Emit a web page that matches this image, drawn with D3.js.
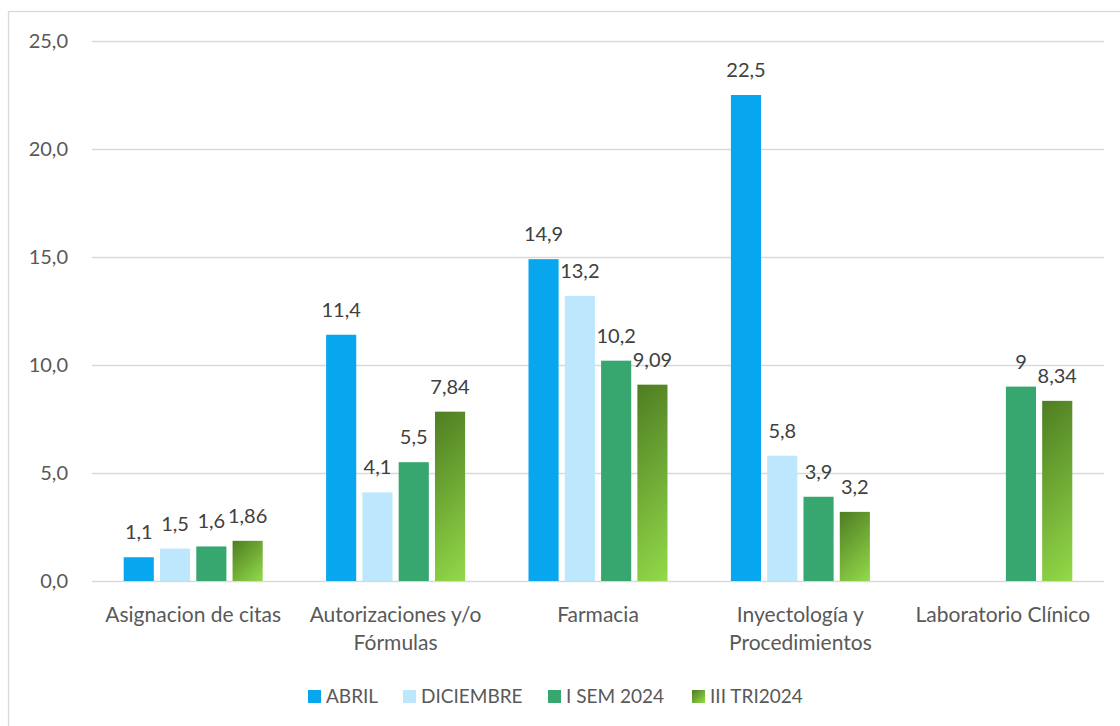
<!DOCTYPE html>
<html>
<head>
<meta charset="utf-8">
<script src="https://cdn.jsdelivr.net/npm/d3@7"></script>
<style>
	body { margin: 0; background: #fff; }
	text { font-family: Lato, "Open Sans", sans-serif; }
</style>
</head>
<body>
<div id="chart-area"></div>
<script>
const categories = ["Asignacion de citas", "Autorizaciones y/o Fórmulas", "Farmacia", "Inyectología y Procedimientos", "Laboratorio Clínico"];
const categoryLines = [["Asignacion de citas"], ["Autorizaciones y/o", "Fórmulas"], ["Farmacia"], ["Inyectología y", "Procedimientos"], ["Laboratorio Clínico"]];
const seriesNames = ["ABRIL", "DICIEMBRE", "I SEM 2024", "III TRI2024"];
const abril = [1.1, 11.4, 14.9, 22.5, null];
const diciembre = [1.5, 4.1, 13.2, 5.8, null];
const isem2024 = [1.6, 5.5, 10.2, 3.9, 9];
const iiitri2024 = [1.86, 7.84, 9.09, 3.2, 8.34];
const yTicks = [0, 5, 10, 15, 20, 25];

const seriesValues = [abril, diciembre, isem2024, iiitri2024];
const colors = ["#08a6ee", "#bde7fc", "#37a66f", null];
const gradTop = "#4e7d22", gradBottom = "#93da49";

const svgWidth = 1120, svgHeight = 726;
const plot = {left: 92, right: 1104, top: 41, bottom: 581};

const svg = d3.select("#chart-area").append("svg")
	.attr("width", svgWidth)
	.attr("height", svgHeight);
const defs = svg.append("defs");

// chart border
svg.append("rect")
	.attr("x", 8.5).attr("y", 11.5)
	.attr("width", 1130).attr("height", 730)
	.attr("fill", "none")
	.attr("stroke", "#d9d9d9")
	.attr("stroke-width", 1.3);

const x0 = d3.scaleBand().domain(categories).range([plot.left, plot.right]);
const x1 = d3.scaleBand().domain(seriesNames).range([-69.5, 69.5]).paddingInner(0.17);
const y = d3.scaleLinear().domain([0, 25]).range([plot.bottom, plot.top]);

const fmtTick = d => d3.format(".1f")(d).replace(".", ",");
const fmtLabel = d => String(d).replace(".", ",");

// grid
const yAxis = svg.append("g")
	.attr("transform", `translate(${plot.left},0)`)
	.call(d3.axisLeft(y).tickValues(yTicks).tickSize(-(plot.right - plot.left)).tickPadding(24).tickFormat(fmtTick));
yAxis.select(".domain").remove();
yAxis.selectAll(".tick line").attr("stroke", "#d9d9d9").attr("stroke-width", 1.3);
yAxis.selectAll(".tick text")
	.attr("fill", "#595959")
	.attr("font-size", "20px")
	.style("font-family", "Lato, sans-serif");

// bars
const flat = [];
categories.forEach((c, i) => {
	seriesNames.forEach((s, j) => {
		const v = seriesValues[j][i];
		if (v != null) flat.push({cat: c, series: s, si: j, value: v, ci: i});
	});
});

flat.forEach((d, k) => {
	if (d.si === 3) {
		const bx = x0(d.cat) + x0.bandwidth() / 2 + x1(d.series);
		const by = y(d.value);
		const w = x1.bandwidth(), h = plot.bottom - by;
		const s = (w + h) / 2;
		const g = defs.append("linearGradient")
			.attr("id", "grad" + k)
			.attr("gradientUnits", "userSpaceOnUse")
			.attr("x1", bx).attr("y1", by)
			.attr("x2", bx + s).attr("y2", by + s);
		g.append("stop").attr("offset", "0%").attr("stop-color", gradTop);
		g.append("stop").attr("offset", "100%").attr("stop-color", gradBottom);
		d.fill = `url(#grad${k})`;
	} else {
		d.fill = colors[d.si];
	}
});

svg.append("g").selectAll("rect").data(flat).enter().append("rect")
	.attr("x", d => x0(d.cat) + x0.bandwidth() / 2 + x1(d.series))
	.attr("y", d => y(d.value))
	.attr("width", x1.bandwidth())
	.attr("height", d => plot.bottom - y(d.value))
	.attr("fill", d => d.fill);

// data labels
svg.append("g").selectAll("text").data(flat).enter().append("text")
	.attr("x", d => x0(d.cat) + x0.bandwidth() / 2 + x1(d.series) + x1.bandwidth() / 2)
	.attr("y", d => y(d.value) - 18)
	.attr("text-anchor", "middle")
	.attr("font-size", "20px")
	.attr("fill", "#404040")
	.text(d => fmtLabel(d.value));

// category labels
const catG = svg.append("g");
categories.forEach((c, i) => {
	const t = catG.append("text")
		.attr("x", x0(c) + x0.bandwidth() / 2)
		.attr("y", 622)
		.attr("text-anchor", "middle")
		.attr("font-size", "21px")
		.attr("fill", "#595959");
	categoryLines[i].forEach((line, li) => {
		t.append("tspan")
			.attr("x", x0(c) + x0.bandwidth() / 2)
			.attr("dy", li === 0 ? 0 : 28)
			.text(line);
	});
});

// legend
const legendX = [308, 403, 548, 692];
const legend = svg.append("g");
seriesNames.forEach((s, j) => {
	const g = legend.append("g").attr("transform", `translate(${legendX[j]},690)`);
	let fill = colors[j];
	if (j === 3) {
		const lg = defs.append("linearGradient").attr("id", "legGrad")
			.attr("x1", 0).attr("y1", 0).attr("x2", 1).attr("y2", 1);
		lg.append("stop").attr("offset", "0%").attr("stop-color", gradTop);
		lg.append("stop").attr("offset", "100%").attr("stop-color", gradBottom);
		fill = "url(#legGrad)";
	}
	g.append("rect").attr("width", 13).attr("height", 13).attr("fill", fill);
	g.append("text")
		.attr("x", 18).attr("y", 13)
		.attr("font-size", "19px")
		.attr("fill", "#595959")
		.text(s);
});
</script>
</body>
</html>
